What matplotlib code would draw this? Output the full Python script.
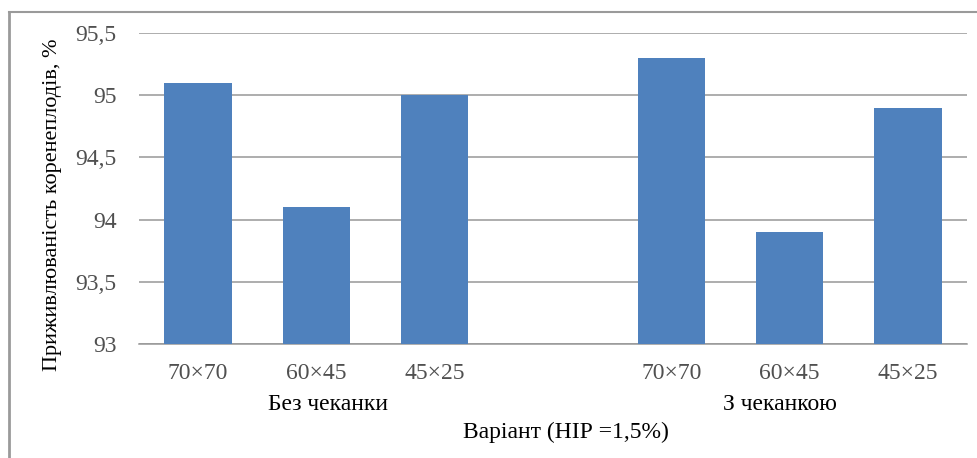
import numpy as np
import matplotlib.pyplot as plt
from matplotlib.lines import Line2D

plt.rcParams['font.family'] = ['Liberation Serif', 'DejaVu Serif']

# Дані
spacing = ['70×70', '60×45', '45×25']
groups = ['Без чеканки', 'З чеканкою']
vals_bez = [95.1, 94.1, 95.0]
vals_z = [95.3, 93.9, 94.9]
yticks = [93, 93.5, 94, 94.5, 95, 95.5]
ytick_labels = ['93', '93,5', '94', '94,5', '95', '95,5']

fs = 17

fig = plt.figure(figsize=(9.78, 4.58), dpi=100)
ax = fig.add_axes([139/978, 1-344/458, (967-139)/978, (344-33)/458])

x1 = np.arange(3)
x2 = np.arange(3) + 4
ax.bar(x1, np.array(vals_bez) - 93, bottom=93, width=0.57, color='#4F81BD', zorder=3)
ax.bar(x2, np.array(vals_z) - 93, bottom=93, width=0.57, color='#4F81BD', zorder=3)

ax.set_xlim(-0.5, 6.5)
ax.set_ylim(93, 95.5)
ax.set_yticks(yticks)
ax.set_yticklabels(ytick_labels, fontsize=fs, color='#505050')
ax.set_xticks(list(x1) + list(x2))
ax.set_xticklabels(spacing + spacing, fontsize=fs, color='#505050')
ax.tick_params(axis='x', length=0, pad=14)
ax.tick_params(axis='y', length=0, pad=16)
ax.grid(axis='y', color='#979797', lw=1.1, zorder=0)
for s in ['top', 'right', 'left']:
    ax.spines[s].set_visible(False)
ax.spines['bottom'].set_color('#979797')
ax.spines['bottom'].set_linewidth(1.1)

# підписи груп
ax.text(1.1, -0.195, groups[0], transform=ax.get_xaxis_transform(),
        ha='center', va='center', fontsize=fs)
ax.text(4.92, -0.195, groups[1], transform=ax.get_xaxis_transform(),
        ha='center', va='center', fontsize=fs)

fig.text(566/978, 1-432/458, 'Варіант (НІР =1,5%)', ha='center', va='center', fontsize=fs)
fig.text(53/978, 1-205/458, 'Приживлюваність коренеплодів, %', rotation=90,
         ha='center', va='center', fontsize=16)

# рамка
fig.add_artist(Line2D([9/978, 1], [1-12/458, 1-12/458], color='#9a9a9a', lw=1.5))
fig.add_artist(Line2D([9/978, 9/978], [0, 1-12/458], color='#9a9a9a', lw=2))

fig.savefig('out.png', dpi=100)
